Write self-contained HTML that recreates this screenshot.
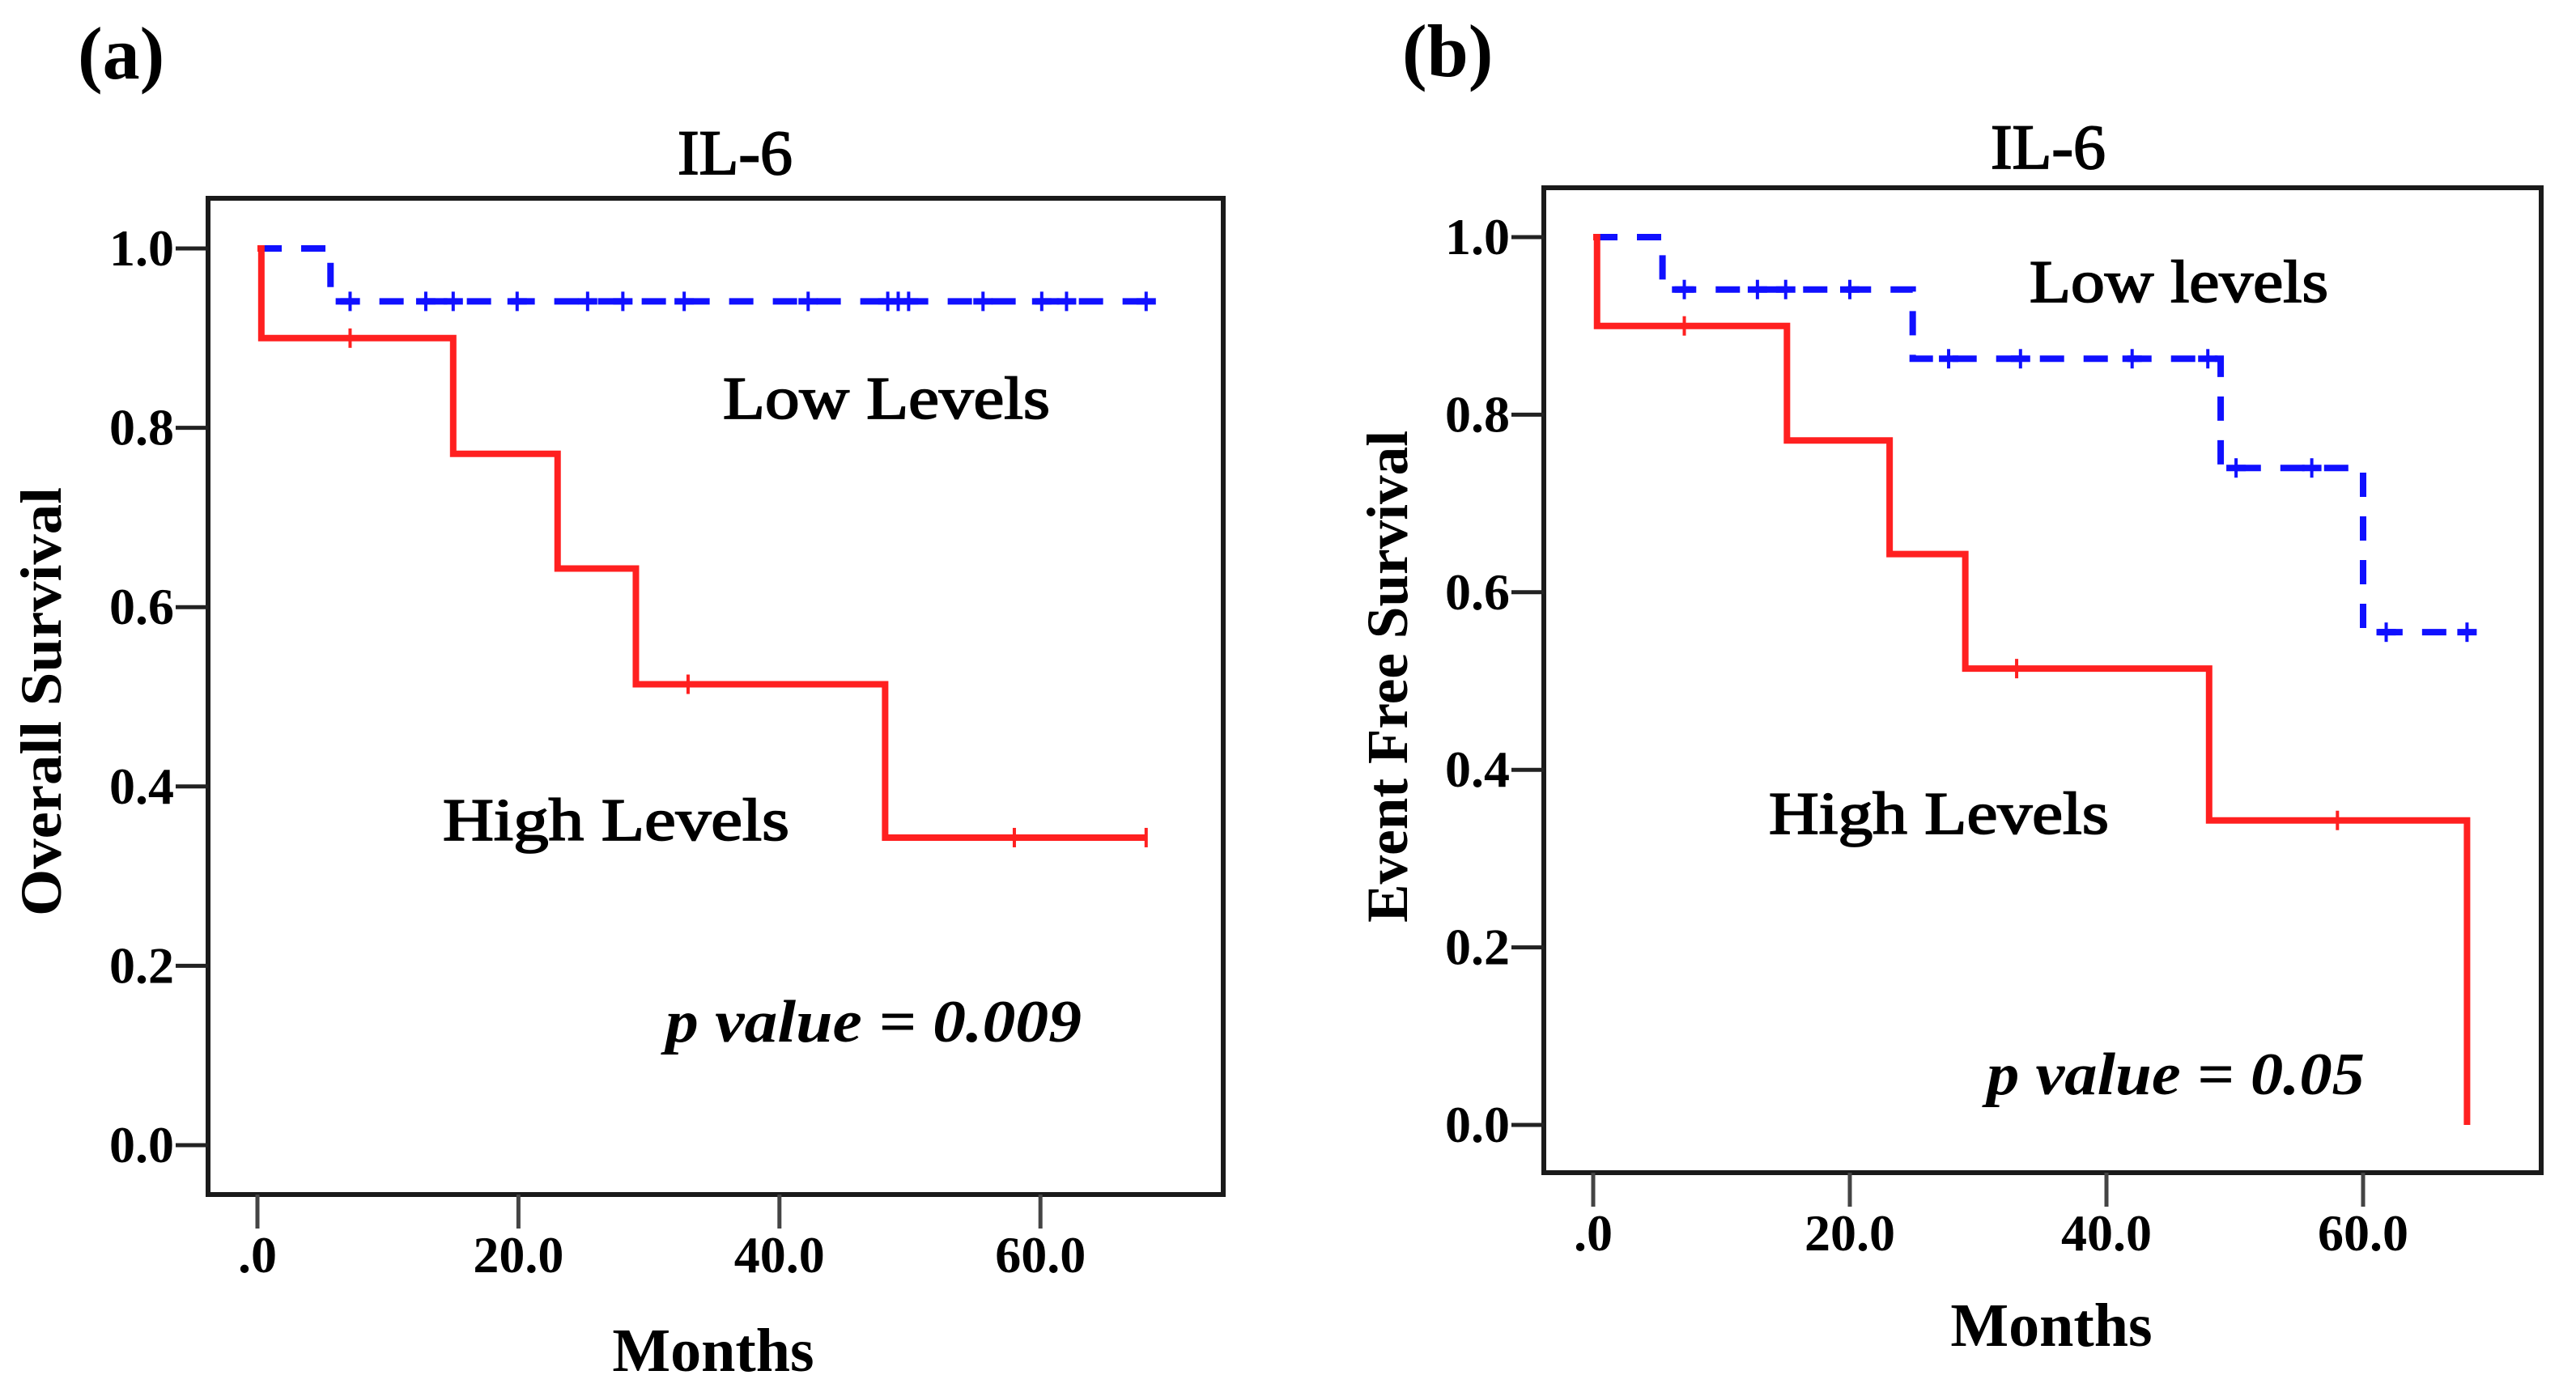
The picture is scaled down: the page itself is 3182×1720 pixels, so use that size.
<!DOCTYPE html>
<html><head><meta charset="utf-8"><style>
html,body{margin:0;padding:0;background:#fff;}
svg{display:block;}
text{font-family:"Liberation Serif",serif;fill:#000;}
</style></head><body>
<svg id="fig" width="3182" height="1720" viewBox="0 0 3182 1720" xmlns="http://www.w3.org/2000/svg"></svg>
<script>
// ---- Panel (a) data: Overall survival ----
const aHighTimes = [0, 0.3, 15.0, 23.0, 29.0, 48.1, 68.1];
const aHighSurv  = [1.0, 0.900, 0.771, 0.643, 0.514, 0.343, 0.343];
const aHighCens  = [7.1, 33.0, 58.0, 68.1];
const aLowTimes  = [0, 5.6, 68.1];
const aLowSurv   = [1.0, 0.941, 0.941];
const aLowCens   = [7.1, 12.9, 15.0, 19.9, 25.3, 28.0, 32.7, 42.2, 48.3, 49.1, 49.9, 55.6, 60.1, 62.0, 68.1];
// ---- Panel (b) data: Event free survival ----
const bHighTimes = [0, 0.3, 15.1, 23.1, 29.0, 48.0, 68.1, 68.1];
const bHighSurv  = [1.0, 0.900, 0.771, 0.643, 0.514, 0.343, 0.343, 0.0];
const bHighCens  = [7.1, 33.0, 58.0];
const bLowTimes  = [0, 5.4, 24.9, 48.9, 60.0, 68.1];
const bLowSurv   = [1.0, 0.941, 0.863, 0.740, 0.555, 0.555];
const bLowCens   = [7.1, 12.8, 15.0, 20.0, 27.7, 33.3, 42.0, 47.9, 50.1, 56.0, 61.8, 68.1];
const yTicks = [0, 0.2, 0.4, 0.6, 0.8, 1.0];
const yTickLabels = ["0.0", "0.2", "0.4", "0.6", "0.8", "1.0"];
const xTicks = [0, 20, 40, 60];
const xTickLabels = [".0", "20.0", "40.0", "60.0"];

const NS = "http://www.w3.org/2000/svg";
const svg = document.getElementById('fig');
function mk(tag, attrs, parent, txt){
  const e = document.createElementNS(NS, tag);
  for (const k in attrs) e.setAttribute(k, attrs[k]);
  if (txt !== undefined) e.textContent = txt;
  (parent || svg).appendChild(e);
  return e;
}

function panel(cfg){
  const g = mk('g', {});
  
  
  const X = t => cfg.x0 + t * cfg.xs;
  const Y = v => cfg.y0 - v * cfg.ys;
  const box = mk('rect', {x: cfg.bx1, y: cfg.by1, width: cfg.bx2 - cfg.bx1, height: cfg.by2 - cfg.by1, fill: 'none', stroke: '#1a1a1a', 'stroke-width': 6}, g);
  
  
  yTicks.forEach((v, i) => {
    const l = mk('line', {x1: cfg.bx1 - 40, x2: cfg.bx1, y1: Y(v), y2: Y(v), stroke: '#222', 'stroke-width': 5}, g);
    
    
    const t = mk('text', {x: cfg.bx1 - 42, y: Y(v) + 21, 'text-anchor': 'end', 'font-size': 64, 'font-weight': 'bold'}, g, yTickLabels[i]);
    
    
  });
  xTicks.forEach((m, i) => {
    const l = mk('line', {x1: X(m), x2: X(m), y1: cfg.by2, y2: cfg.by2 + 42, stroke: '#444', 'stroke-width': 5}, g);
    
    
    const t = mk('text', {x: X(m), y: cfg.xly, 'text-anchor': 'middle', 'font-size': 64, 'font-weight': 'bold'}, g, xTickLabels[i]);
    
    
  });
  function curve(times, surv, cens, color, dashed, nm){
    let d = 'M' + X(times[0]) + ' ' + Y(surv[0]);
    for (let i = 1; i < times.length; i++){
      d += ' H' + X(times[i]) + ' V' + Y(surv[i]);
    }
    const p = mk('path', {d: d, fill: 'none', stroke: color, 'stroke-width': 8, 'stroke-dasharray': dashed ? '30 24' : 'none'}, g);
    
    
    cens.forEach(c => {
      let v = surv[0];
      for (let i = 0; i < times.length; i++){ if (times[i] <= c) v = surv[i]; }
      const m = mk('line', {x1: X(c), x2: X(c), y1: Y(v) - 12, y2: Y(v) + 12, stroke: color, 'stroke-width': 4}, g);
      
      
      if (dashed){
        const h = mk('line', {x1: X(c) - 12, x2: X(c) + 12, y1: Y(v), y2: Y(v), stroke: color, 'stroke-width': 8}, g);
        
        
      }
    });
  }
  curve(cfg.lowT, cfg.lowS, cfg.lowC, '#1010ff', true, 'low-levels');
  curve(cfg.highT, cfg.highS, cfg.highC, '#ff2020', false, 'high-levels');
  return g;
}

panel({name: 'panel-a', x0: 318, xs: 16.12, y0: 1415, ys: 1108, bx1: 257, by1: 245, bx2: 1511, by2: 1476, xly: 1572,
  lowT: aLowTimes, lowS: aLowSurv, lowC: aLowCens, highT: aHighTimes, highS: aHighSurv, highC: aHighCens});
panel({name: 'panel-b', x0: 1968, xs: 15.85, y0: 1390, ys: 1097, bx1: 1907, by1: 232, bx2: 3139, by2: 1449, xly: 1545,
  lowT: bLowTimes, lowS: bLowSurv, lowC: bLowCens, highT: bHighTimes, highS: bHighSurv, highC: bHighCens});

function label(txt, attrs, name){
  const t = mk('text', attrs, svg, txt);
  
  
  return t;
}
const semi = {stroke: '#000', 'stroke-width': 1.8};
function L(txt, attrs, name, heavy){ return label(txt, heavy ? Object.assign({}, attrs, semi) : attrs, name); }
L('(a)', {x: 96, y: 97, 'font-size': 92, 'font-weight': 'bold'}, 'panel-a-label');
L('(b)', {x: 1732, y: 94, 'font-size': 92, 'font-weight': 'bold'}, 'panel-b-label');
L('IL-6', {x: 908, y: 215, 'text-anchor': 'middle', 'font-size': 78, textLength: 142, lengthAdjust: 'spacingAndGlyphs'}, 'panel-a-title', true);
L('IL-6', {x: 2530, y: 208, 'text-anchor': 'middle', 'font-size': 78, textLength: 142, lengthAdjust: 'spacingAndGlyphs'}, 'panel-b-title', true);
L('Months', {x: 881, y: 1694, 'text-anchor': 'middle', 'font-size': 76, 'font-weight': 'bold'}, 'panel-a-x-axis-title');
L('Months', {x: 2534, y: 1663, 'text-anchor': 'middle', 'font-size': 76, 'font-weight': 'bold'}, 'panel-b-x-axis-title');
L('Overall Survival', {x: 0, y: 0, 'text-anchor': 'middle', 'font-size': 72, 'font-weight': 'bold', textLength: 530, lengthAdjust: 'spacingAndGlyphs', transform: 'translate(75,867) rotate(-90)'}, 'panel-a-y-axis-title');
L('Event Free Survival', {x: 0, y: 0, 'text-anchor': 'middle', 'font-size': 72, 'font-weight': 'bold', textLength: 608, lengthAdjust: 'spacingAndGlyphs', transform: 'translate(1738,836) rotate(-90)'}, 'panel-b-y-axis-title');
L('Low Levels', {x: 893, y: 517, 'font-size': 74, textLength: 404, lengthAdjust: 'spacingAndGlyphs'}, 'panel-a-low-levels-label', true);
L('High Levels', {x: 547, y: 1038, 'font-size': 74, textLength: 428, lengthAdjust: 'spacingAndGlyphs'}, 'panel-a-high-levels-label', true);
L('p value = 0.009', {x: 822, y: 1287, 'font-size': 74, 'font-weight': 'bold', 'font-style': 'italic', textLength: 514, lengthAdjust: 'spacingAndGlyphs'}, 'panel-a-p-value');
L('Low levels', {x: 2507, y: 373, 'font-size': 74, textLength: 369, lengthAdjust: 'spacingAndGlyphs'}, 'panel-b-low-levels-label', true);
L('High Levels', {x: 2185, y: 1030, 'font-size': 74, textLength: 420, lengthAdjust: 'spacingAndGlyphs'}, 'panel-b-high-levels-label', true);
L('p value = 0.05', {x: 2454, y: 1352, 'font-size': 74, 'font-weight': 'bold', 'font-style': 'italic', textLength: 467, lengthAdjust: 'spacingAndGlyphs'}, 'panel-b-p-value');
</script>
</body></html>
